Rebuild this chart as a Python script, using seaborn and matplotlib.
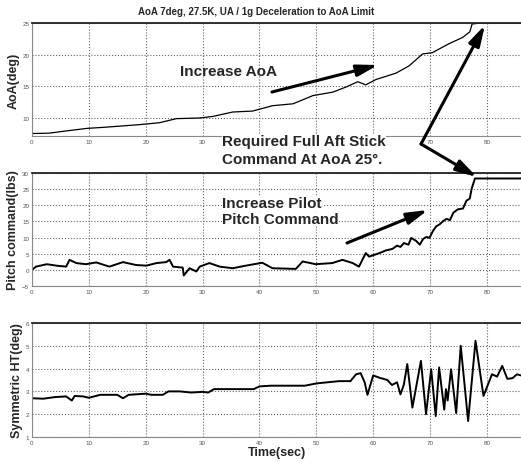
import matplotlib
matplotlib.use("Agg")
import numpy as np
import pandas as pd
import seaborn as sns
import matplotlib.pyplot as plt

# values
aoa_time = [0, 0.5, 3, 6, 9.6, 13, 16, 18.9, 22.4, 25.4, 29.5, 31.8, 35.3, 38.8, 42.3, 45.9,
            49.4, 52.9, 55.2, 57.3, 58.7, 60.5, 64, 66.3, 68.7, 70.4, 73.3, 75.7, 77.0,
            77.4, 78.0, 78.6, 86]
aoa_deg = [7.5, 7.5, 7.55, 7.9, 8.3, 8.5, 8.7, 8.9, 9.2, 9.85, 9.95, 10.2, 10.9, 11.05, 11.9, 12.2,
           13.5, 14.05, 14.85, 15.7, 15.2, 16.05, 17.05, 18.2, 20.1, 20.3, 21.7, 22.7, 23.6,
           24.85, 24.9, 25.0, 25.0]

pitch_time = [0, 0.7, 2.6, 4.3, 6.0, 6.6, 7.8, 9.5, 11.3, 13.6, 16.0, 18.3, 20.1, 21.9, 23.6,
              24.2, 24.8, 26.5, 26.7, 27.7, 28.9, 29.5, 31.2, 33.0, 35.3, 37.6, 40.5, 42.3,
              46.4, 47.6, 49.9, 52.8, 54.6, 56.4, 57.5, 58.7, 59.3, 61.1, 62.2, 63.4, 64.2,
              64.8, 65.4, 66.2, 66.7, 67.6, 68.2, 68.8, 69.4, 69.9, 70.5, 71.1, 71.7, 72.3,
              72.9, 73.5, 74.1, 74.9, 75.8, 76.4, 77.0, 77.3, 77.9, 86]
pitch_lbs = [0, 1.0, 1.75, 1.3, 1.0, 3.1, 2.1, 1.75, 2.3, 1.0, 2.4, 1.5, 1.3, 2.1, 2.4,
             3.1, 1.0, 0.7, -1.75, 0.5, -0.5, 1.0, 2.1, 1.0, 0.5, 1.3, 2.2, 0.5,
             0.3, 2.6, 1.75, 2.1, 3.1, 2.1, 1.0, 5.2, 4.1, 5.2, 6.0, 6.5, 7.5,
             7.1, 8.3, 7.8, 9.9, 8.9, 7.8, 9.6, 10.2, 9.9, 12.0, 13.5, 14.1, 15.1,
             15.8, 15.4, 17.7, 18.75, 19.0, 21.4, 22.1, 25.0, 28.3, 28.3]

ht_time = [0, 2, 4, 6, 7, 7.5, 9, 10, 12, 15, 16, 17, 20, 21, 23, 24, 26, 28, 30, 31, 32,
           35, 39, 40, 42, 45, 48, 50, 52, 54, 56, 57, 57.8, 58.5, 59, 60, 61.1, 62.5, 63.3,
           64.2, 64.8, 65.4, 66, 66.9, 68.4, 69.3, 70.2, 71.0, 71.6, 72.5, 72.8, 73.1, 73.7,
           74.6, 75.4, 76.7, 78.0, 79.4, 80.9, 81.8, 82.7, 83.6, 84.5, 85.3, 86]
ht_deg = [2.7, 2.68, 2.75, 2.78, 2.6, 2.8, 2.78, 2.72, 2.85, 2.85, 2.7, 2.85, 2.9, 2.85, 2.85,
          3.0, 3.0, 2.95, 2.98, 2.95, 3.1, 3.1, 3.1, 3.22, 3.25, 3.25, 3.25, 3.35, 3.4, 3.45,
          3.45, 3.75, 3.8, 3.4, 2.85, 3.7, 3.6, 3.5, 3.28, 3.4, 2.87, 3.3, 4.2, 2.29, 4.34,
          2.0, 3.97, 1.92, 4.05, 2.2, 3.1, 2.6, 3.97, 2.05, 5.0, 1.7, 5.22, 2.8, 3.75, 3.65,
          4.12, 3.55, 3.58, 3.75, 3.7]

x_ticks = [0, 10, 20, 30, 40, 50, 60, 70, 80]
# in the top panel the 40-60 labels sit under the annotation text
x_labels_top = ["0", "10", "20", "30", "", "", "", "70", "80"]
aoa_ticks = [10, 15, 20, 25]
pitch_ticks = [-5, 0, 5, 10, 15, 20, 25, 30]
ht_ticks = [1, 2, 3, 4, 5, 6]

title = "AoA 7deg, 27.5K, UA / 1g Deceleration to AoA Limit"

sns.set_theme(style="whitegrid")
plt.rcParams["font.family"] = ["Liberation Sans", "DejaVu Sans"]

W, H = 521, 464
fig = plt.figure(figsize=(W / 100, H / 100), dpi=100)


def px_box(left, top, right, bottom):
    return [left / W, 1 - bottom / H, (right - left) / W, (bottom - top) / H]


def fp(x, y):
    return (x / W, 1 - y / H)


panels = [
    (px_box(32, 24, 521, 137), aoa_time, aoa_deg, (7.1, 25), aoa_ticks, "AoA(deg)", 0.9),
    (px_box(32, 174, 521, 287), pitch_time, pitch_lbs, (-5, 30), pitch_ticks, "Pitch command(lbs)", 1.4),
    (px_box(32, 324, 521, 438), ht_time, ht_deg, (1, 6), ht_ticks, "Symmetric HT(deg)", 1.4),
]

axes = []
for box, xs, ys, ylim, yticks, ylabel, lw in panels:
    ax = fig.add_axes(box)
    df = pd.DataFrame({"t": xs, "v": ys})
    sns.lineplot(data=df, x="t", y="v", ax=ax, color="black", linewidth=lw, estimator=None, sort=False)
    ax.set_xlim(0, 86)
    ax.set_ylim(*ylim)
    ax.set_xticks(x_ticks)
    ax.set_yticks(yticks)
    ax.set_facecolor("white")
    ax.grid(True, linestyle=":", color="#666666", linewidth=0.8)
    ax.tick_params(labelsize=4.5, colors="#555555", length=0, pad=2)
    for name, sp in ax.spines.items():
        sp.set_visible(True)
        sp.set_color("#888888")
        sp.set_linewidth(0.8)
    ax.spines["top"].set_color("#222222")
    ax.spines["top"].set_linewidth(1.3)
    ax.spines["right"].set_visible(False)
    ax.set_xlabel("")
    ax.set_ylabel(ylabel, fontsize=9, fontweight="bold", labelpad=2)
    axes.append(ax)

axes[0].set_xticklabels(x_labels_top)
axes[-1].set_xlabel("Time(sec)", fontsize=9, fontweight="bold", labelpad=1)

fig.text(256 / W, 1 - 12 / H, title, ha="center", va="center", fontsize=7, fontweight="bold")

big = dict(fontsize=11, fontweight="bold", ha="left", va="center")
box = dict(facecolor="white", edgecolor="none", pad=0.3)
fig.text(*fp(180, 72), "Increase AoA", **big)
fig.text(*fp(222, 142), "Required Full Aft Stick", **big, bbox=box)
fig.text(*fp(222, 160), "Command At AoA 25\u00b0.", **big, bbox=box)
fig.text(*fp(222, 204), "Increase Pilot", **big, bbox=box)
fig.text(*fp(222, 220), "Pitch Command", **big, bbox=box)

arrow = dict(arrowstyle="-|>,head_length=0.9,head_width=0.25", color="black", lw=2.2,
             shrinkA=0, shrinkB=0)
arrows = [((272, 93), (378, 66)),
          ((421, 145), (485, 26)),
          ((421, 145), (477, 178)),
          ((347, 244), (428, 211))]
for start, end in arrows:
    fig.add_artist(matplotlib.patches.FancyArrowPatch(
        fp(*start), fp(*end), transform=fig.transFigure, mutation_scale=14, **arrow))

fig.savefig("out.png", dpi=100)
